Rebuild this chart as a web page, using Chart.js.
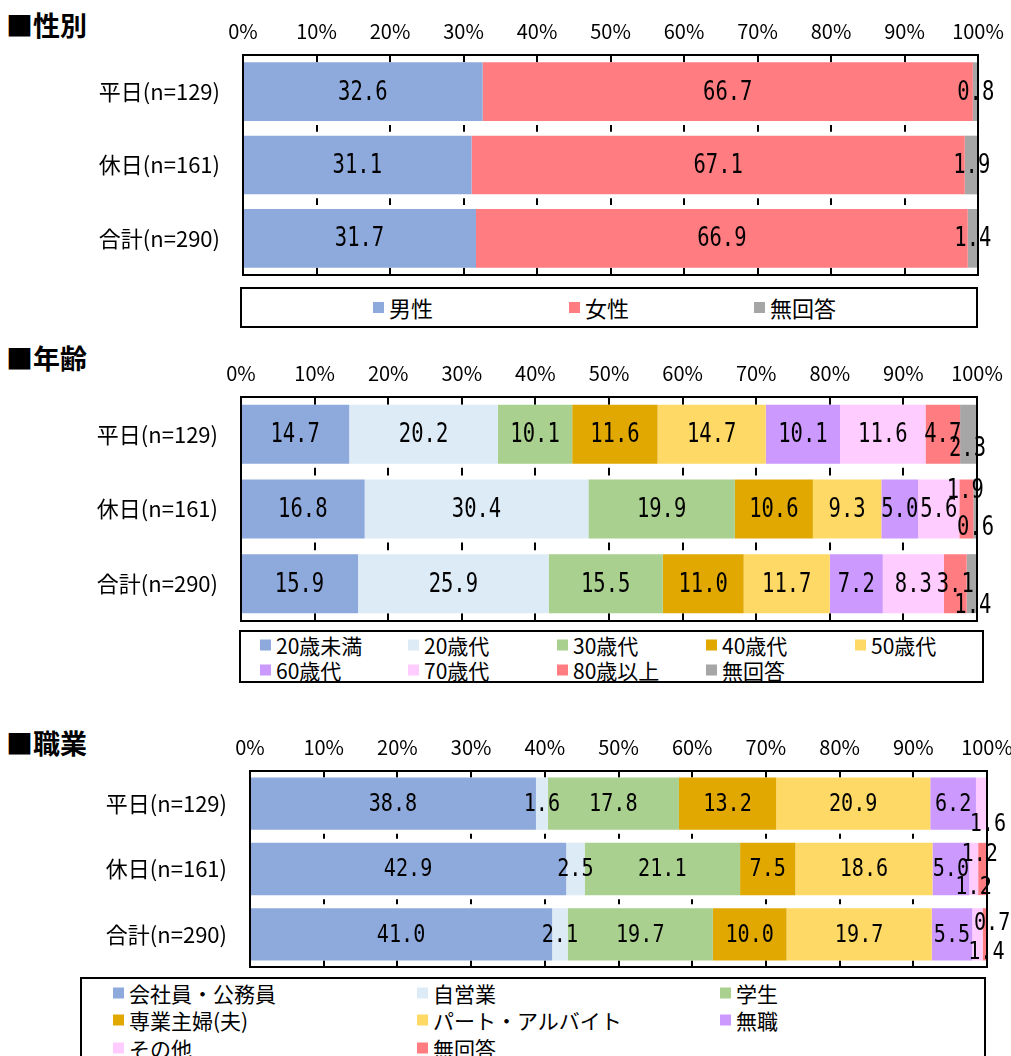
<!DOCTYPE html>
<html lang="ja">
<head>
<meta charset="utf-8">
<script src="https://cdn.jsdelivr.net/npm/chart.js@4.4.1/dist/chart.umd.min.js"></script>
<style>
  body { margin: 0; background: #fff; width: 1011px; height: 1056px; overflow: hidden; position: relative;
         font-family: 'Noto Sans CJK JP', sans-serif; color: #000; }
  .title { position: absolute; left: 6px; font-size: 27px; font-weight: bold; line-height: 1; }
  .wrap { position: absolute; left: 0; width: 1011px; }
  .legend { position: absolute; border: 2px solid #000; box-sizing: border-box; background: #fff; }
  .item { position: absolute; display: flex; align-items: center; white-space: nowrap;
          line-height: 1; transform: translateY(-50%); }
  .item i { display: inline-block; width: 11px; height: 11px; margin-right: 5px; }
</style>
</head>
<body>

<div class="title" style="top:11px">■性別</div>
<div class="wrap" style="top:0;height:280px"><canvas id="genderChart"></canvas></div>
<div class="legend" id="genderLegend" style="left:240px;top:287px;width:738px;height:41px"></div>

<div class="title" style="top:344px">■年齢</div>
<div class="wrap" style="top:340px;height:285px"><canvas id="ageChart"></canvas></div>
<div class="legend" id="ageLegend" style="left:239px;top:630px;width:745px;height:53px"></div>

<div class="title" style="top:729px">■職業</div>
<div class="wrap" style="top:715px;height:257px"><canvas id="jobChart"></canvas></div>
<div class="legend" id="jobLegend" style="left:80px;top:977px;width:906px;height:95px"></div>

<script>
// rows (same for all three charts)
const rowLabels = ['平日(n=129)', '休日(n=161)', '合計(n=290)'];

// 性別
const genderSeries = ['男性', '女性', '無回答'];
const genderValues = [
  [32.6, 31.1, 31.7],
  [66.7, 67.1, 66.9],
  [0.8, 1.9, 1.4]
];

// 年齢
const ageSeries = ['20歳未満', '20歳代', '30歳代', '40歳代', '50歳代', '60歳代', '70歳代', '80歳以上', '無回答'];
const ageValues = [
  [14.7, 16.8, 15.9],
  [20.2, 30.4, 25.9],
  [10.1, 19.9, 15.5],
  [11.6, 10.6, 11.0],
  [14.7, 9.3, 11.7],
  [10.1, 5.0, 7.2],
  [11.6, 5.6, 8.3],
  [4.7, 1.9, 3.1],
  [2.3, 0.6, 1.4]
];

// 職業
const jobSeries = ['会社員・公務員', '自営業', '学生', '専業主婦(夫)', 'パート・アルバイト', '無職', 'その他', '無回答'];
const jobValues = [
  [38.8, 42.9, 41.0],
  [1.6, 2.5, 2.1],
  [17.8, 21.1, 19.7],
  [13.2, 7.5, 10.0],
  [20.9, 18.6, 19.7],
  [6.2, 5.0, 5.5],
  [1.6, 1.2, 1.4],
  [0, 1.2, 0.7]
];

const percentTicks = [0, 10, 20, 30, 40, 50, 60, 70, 80, 90, 100];

const genderColors = ['#8EA9DB', '#FF7C80', '#A6A6A6'];
const ageColors = ['#8EA9DB', '#DDEBF7', '#A9D08E', '#E0A800', '#FFD966', '#CC99FF', '#FFCCFF', '#FF7C80', '#A6A6A6'];
const jobColors = ['#8EA9DB', '#DDEBF7', '#A9D08E', '#E0A800', '#FFD966', '#CC99FF', '#FFCCFF', '#FF7C80'];

Chart.defaults.font.family = "'Noto Sans CJK JP', sans-serif";
Chart.defaults.color = '#000';

// short grid marks: only where the bars leave the gridline visible
const gapTicks = {
  id: 'gapTicks',
  beforeDatasetsDraw(chart) {
    const { ctx, chartArea, scales: { x } } = chart;
    const bars = chart.getDatasetMeta(0).data;
    const spans = [];
    let prev = chartArea.top;
    bars.forEach(b => {
      spans.push([prev, b.y - b.height / 2]);
      prev = b.y + b.height / 2;
    });
    spans.push([prev, chartArea.bottom]);
    ctx.save();
    ctx.strokeStyle = '#000';
    ctx.lineWidth = 2;
    percentTicks.slice(1, -1).forEach(v => {
      const px = Math.round(x.getPixelForValue(v));
      spans.forEach(([a, b], i) => {
        const inset = (i > 0 && i < spans.length - 1) ? 4 : 0;
        ctx.beginPath();
        ctx.moveTo(px, a + inset);
        ctx.lineTo(px, b - inset);
        ctx.stroke();
      });
    });
    ctx.restore();
  }
};

const frame = {
  id: 'frame',
  afterDatasetsDraw(chart) {
    const { ctx, chartArea: a } = chart;
    ctx.save();
    ctx.strokeStyle = '#000';
    ctx.lineWidth = 2;
    ctx.strokeRect(a.left, a.top, a.right - a.left, a.bottom - a.top);
    ctx.restore();
  }
};

const valueLabels = {
  id: 'valueLabels',
  afterDatasetsDraw(chart, args, opts) {
    const { ctx } = chart;
    ctx.save();
    ctx.font = opts.size + 'px "DejaVu Sans Mono", monospace';
    ctx.fillStyle = '#000';
    ctx.textAlign = 'center';
    ctx.textBaseline = 'middle';
    chart.data.datasets.forEach((ds, di) => {
      chart.getDatasetMeta(di).data.forEach((bar, ri) => {
        const v = ds.data[ri];
        if (!v) return;
        const n = (opts.nudges || []).find(m => m[0] === di && m[1] === ri);
        const cx = (bar.x + bar.base) / 2 + (n ? n[2] : 0);
        const cy = bar.y + (n ? n[3] : 0);
        ctx.save();
        ctx.translate(cx, cy);
        ctx.scale(opts.squeeze, 1);
        ctx.fillText(v.toFixed(1), 0, 1);
        ctx.restore();
      });
    });
    ctx.restore();
  }
};

function createStackedChart(id, seriesNames, seriesValues, colors, layout) {
  const ctx = document.getElementById(id);
  return new Chart(ctx, {
    type: 'bar',
    data: {
      labels: rowLabels,
      datasets: seriesNames.map((name, i) => ({
        label: name,
        data: seriesValues[i],
        backgroundColor: colors[i],
        borderWidth: 0,
        barPercentage: layout.barPct,
        categoryPercentage: 1
      }))
    },
    options: {
      indexAxis: 'y',
      responsive: true,
      maintainAspectRatio: false,
      animation: false,
      layout: { padding: { left: 0, right: layout.right, top: 0, bottom: layout.bottom } },
      scales: {
        x: {
          position: 'top',
          stacked: true,
          min: 0,
          max: 100,
          grid: { display: false, drawTicks: false },
          border: { display: false },
          afterBuildTicks: s => { s.ticks = percentTicks.map(v => ({ value: v })); },
          afterFit: s => { s.height = layout.axisH; s.paddingLeft = 0; s.paddingRight = 0; },
          ticks: {
            autoSkip: false,
            maxRotation: 0,
            padding: 12,
            font: { size: 20 },
            callback: v => v + '%'
          }
        },
        y: {
          stacked: true,
          grid: { display: false, drawTicks: false },
          border: { display: false },
          afterFit: s => { s.width = layout.left; s.paddingTop = 0; s.paddingBottom = 0; },
          ticks: { padding: 23, font: { size: 22 } }
        }
      },
      plugins: {
        legend: { display: false },
        tooltip: { enabled: false },
        valueLabels: { size: layout.labelSize, squeeze: layout.squeeze, nudges: layout.nudges }
      }
    },
    plugins: [gapTicks, frame, valueLabels]
  });
}

function buildLegend(id, seriesNames, colors, cols, rows, fontSize) {
  const box = document.getElementById(id);
  seriesNames.forEach((name, i) => {
    const el = document.createElement('div');
    el.className = 'item';
    el.style.left = cols[i % cols.length] + 'px';
    el.style.top = rows[Math.floor(i / cols.length)] + 'px';
    el.style.fontSize = fontSize + 'px';
    el.innerHTML = '<i style="background:' + colors[i] + '"></i>' + name;
    box.appendChild(el);
  });
}

createStackedChart('genderChart', genderSeries, genderValues, genderColors, {
  left: 243, right: 33, axisH: 55, bottom: 5, barPct: 0.8,
  labelSize: 27, squeeze: 0.76, nudges: []
});
createStackedChart('ageChart', ageSeries, ageValues, ageColors, {
  left: 241, right: 34, axisH: 57, bottom: 4, barPct: 0.79,
  labelSize: 27, squeeze: 0.76,
  nudges: [[8, 0, -1, 14], [7, 1, -1, -19], [8, 1, 0, 18], [8, 2, 1, 21]]
});
createStackedChart('jobChart', jobSeries, jobValues, jobColors, {
  left: 250, right: 24, axisH: 56, bottom: 5, barPct: 0.8,
  labelSize: 24, squeeze: 0.84,
  nudges: [[6, 0, 6, 20], [6, 1, 6, -15], [7, 1, -9, 18], [6, 2, 9, 17], [7, 2, 7, -12]]
});

buildLegend('genderLegend', genderSeries, genderColors, [131, 327, 512], [18], 22);
buildLegend('ageLegend', ageSeries, ageColors, [19, 167, 316, 465, 614], [13, 38], 21);
buildLegend('jobLegend', jobSeries, jobColors, [31, 335, 638], [14, 41, 69], 21);
</script>
</body>
</html>
